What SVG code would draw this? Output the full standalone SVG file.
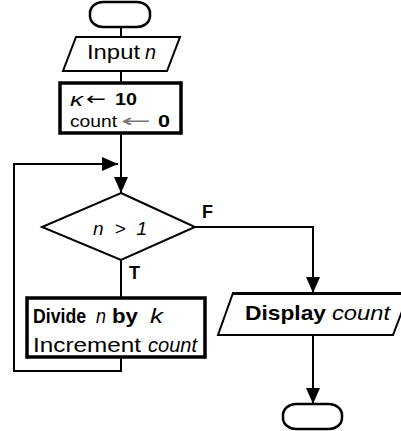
<svg xmlns="http://www.w3.org/2000/svg" width="401" height="431" viewBox="0 0 401 431">
  <style>
    .shape { fill: #fff; stroke: #000; stroke-width: 2; stroke-linejoin: miter; }
    .box { fill: #fff; stroke: #000; stroke-width: 3.5; }
    .term { fill: #fff; stroke: #000; stroke-width: 2.5; }
    .wire { fill: none; stroke: #000; stroke-width: 2; }
    text { font-family: "Liberation Sans", Arial, sans-serif; fill: #000; }
    .arr { font-family: "DejaVu Sans", sans-serif; }
    .it { font-style: italic; }
    .b { font-weight: bold; }
  </style>
  <defs>
    <marker id="arrow" viewBox="0 0 16 14" refX="16" refY="7" markerWidth="16" markerHeight="14" markerUnits="userSpaceOnUse" orient="auto">
      <path d="M0,0 L16,7 L0,14 Z" fill="#000"/>
    </marker>
  </defs>

  <!-- connectors -->
  <g id="connectors">
    <line class="wire" x1="121" y1="27" x2="121" y2="37"/>
    <line class="wire" x1="121" y1="71" x2="121" y2="83"/>
    <line class="wire" x1="121" y1="133" x2="121" y2="193" marker-end="url(#arrow)"/>
    <line class="wire" x1="121" y1="260" x2="121" y2="298"/>
    <polyline class="wire" points="121,357 121,371 14,371 14,164 118,164" marker-end="url(#arrow)"/>
    <polyline class="wire" points="195,227 313,227 313,293" marker-end="url(#arrow)"/>
    <line class="wire" x1="313" y1="335" x2="313" y2="404" marker-end="url(#arrow)"/>
  </g>

  <!-- start terminal -->
  <g id="start">
    <rect class="term" x="90" y="2" width="60" height="25" rx="13" ry="11"/>
  </g>

  <!-- input n -->
  <g id="input">
    <polygon class="shape" points="76,37 180,37 167,71 63,71"/>
    <text x="87" y="59" font-size="20" textLength="53" lengthAdjust="spacingAndGlyphs">Input</text>
    <text class="it" x="145" y="59" font-size="20" textLength="11" lengthAdjust="spacingAndGlyphs">n</text>
  </g>

  <!-- initialisation -->
  <g id="init">
    <rect class="box" x="60" y="83" width="121" height="50"/>
    <text class="it" x="70" y="106" font-size="19" textLength="13" lengthAdjust="spacingAndGlyphs">κ</text>
    <text class="arr" x="86" y="105" font-size="18" textLength="20" lengthAdjust="spacingAndGlyphs">←</text>
    <text class="b" x="115" y="105" font-size="17" textLength="22" lengthAdjust="spacingAndGlyphs">10</text>
    <text x="70" y="127" font-size="17" textLength="47" lengthAdjust="spacingAndGlyphs">count</text>
    <text class="arr" x="121" y="127" font-size="18" style="fill:#777" textLength="30" lengthAdjust="spacingAndGlyphs">←</text>
    <text class="b" x="158" y="127" font-size="17" textLength="12" lengthAdjust="spacingAndGlyphs">0</text>
  </g>

  <!-- decision n > 1 -->
  <g id="decision">
    <polygon class="shape" points="121,193 195,227 121,260 42,227"/>
    <text class="it" x="93" y="235" font-size="19" textLength="54" lengthAdjust="spacing">n &gt; 1</text>
    <text class="b" x="202" y="218" font-size="18">F</text>
    <text class="b" x="129" y="279" font-size="18">T</text>
  </g>

  <!-- loop body -->
  <g id="body">
    <rect class="box" x="27" y="298" width="178" height="59"/>
    <text class="b" x="33" y="323" font-size="21" textLength="53" lengthAdjust="spacingAndGlyphs">Divide</text>
    <text class="it" x="96" y="323" font-size="21" textLength="10" lengthAdjust="spacingAndGlyphs">n</text>
    <text class="b" x="112" y="323" font-size="21" textLength="26" lengthAdjust="spacingAndGlyphs">by</text>
    <text class="it" x="150" y="323" font-size="21" textLength="13" lengthAdjust="spacingAndGlyphs">k</text>
    <text x="33" y="352" font-size="21" textLength="108" lengthAdjust="spacingAndGlyphs">Increment</text>
    <text class="it" x="148" y="352" font-size="21" textLength="49" lengthAdjust="spacingAndGlyphs">count</text>
  </g>

  <!-- output -->
  <g id="output">
    <polygon class="shape" points="233,293 409,293 393,335 218,335"/>
    <line x1="233" y1="293.5" x2="409" y2="293.5" stroke="#000" stroke-width="3"/>
    <text class="b" x="245" y="320" font-size="21" textLength="81" lengthAdjust="spacingAndGlyphs">Display</text>
    <text class="it" x="332" y="320" font-size="21" textLength="58" lengthAdjust="spacingAndGlyphs">count</text>
  </g>

  <!-- end terminal -->
  <g id="end">
    <rect class="term" x="283" y="404" width="59" height="25" rx="13" ry="11"/>
  </g>
</svg>
